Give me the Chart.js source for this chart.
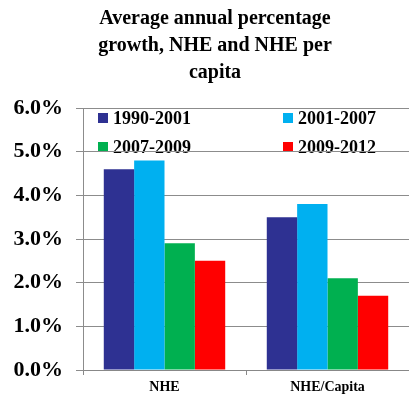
<!DOCTYPE html>
<html>
<head>
<meta charset="utf-8">
<script src="https://cdn.jsdelivr.net/npm/chart.js@4"></script>
<style>
  html, body { margin: 0; padding: 0; background: #fff; }
  #wrap { width: 409px; height: 398px; }
</style>
</head>
<body>
<div id="wrap"><canvas id="growth-chart" width="409" height="398"></canvas></div>
<script>
const categories = ['NHE', 'NHE/Capita'];
const periods = ['1990-2001', '2001-2007', '2007-2009', '2009-2012'];
const growth1990 = [4.6, 3.5];
const growth2001 = [4.8, 3.8];
const growth2007 = [2.9, 2.1];
const growth2009 = [2.5, 1.7];
const yTicks = [0, 1, 2, 3, 4, 5, 6];
const titleLines = ['Average annual percentage', 'growth, NHE and NHE per', 'capita'];

const colors = ['#2e3192', '#00b0f0', '#00b050', '#ff0000'];
const serif = '"Liberation Serif", "Times New Roman", serif';

// title + legend drawn by hand, the legend sits inside the plot like the excel original
const excelBits = {
  id: 'excelBits',
  beforeDraw(chart) {
    const ctx = chart.ctx;
    ctx.save();
    ctx.fillStyle = '#000';
    ctx.textAlign = 'center';
    ctx.textBaseline = 'middle';
    ctx.font = 'bold 20px ' + serif;
    titleLines.forEach((t, i) => ctx.fillText(t, 215, 19 + i * 27));

    ctx.font = 'bold 18px ' + serif;
    ctx.textAlign = 'left';
    chart.data.datasets.forEach((ds, i) => {
      const x = i % 2 === 0 ? 98 : 283;
      const y = i < 2 ? 118 : 147;
      ctx.fillStyle = ds.backgroundColor;
      ctx.fillRect(x, y - 5, 10, 10);
      ctx.fillStyle = '#000';
      ctx.fillText(ds.label, x + 15, y + 1);
    });
    ctx.restore();
  }
};

const ctx = document.getElementById('growth-chart').getContext('2d');
new Chart(ctx, {
  type: 'bar',
  data: {
    labels: categories,
    datasets: [
      { label: periods[0], data: growth1990, backgroundColor: colors[0] },
      { label: periods[1], data: growth2001, backgroundColor: colors[1] },
      { label: periods[2], data: growth2007, backgroundColor: colors[2] },
      { label: periods[3], data: growth2009, backgroundColor: colors[3] }
    ]
  },
  options: {
    responsive: false,
    animation: false,
    layout: { padding: { top: 108, left: 0, right: 0, bottom: 0 } },
    datasets: {
      bar: { categoryPercentage: 0.745, barPercentage: 1 }
    },
    plugins: {
      legend: { display: false },
      title: { display: false },
      tooltip: { enabled: false }
    },
    scales: {
      x: {
        grid: { drawOnChartArea: false, drawTicks: true, tickLength: 5, color: '#888' },
        border: { color: '#888' },
        ticks: { color: '#000', padding: 4, font: { family: serif, size: 14, weight: 'bold' } },
        afterFit(scale) { scale.height = 28; }
      },
      y: {
        min: 0,
        max: 6,
        afterBuildTicks(scale) { scale.ticks = yTicks.map(v => ({ value: v })); },
        grid: { color: '#8c8c8c', tickLength: 7 },
        border: { color: '#8c8c8c' },
        ticks: {
          color: '#000',
          padding: 13,
          font: { family: serif, size: 22, weight: 'bold' },
          callback: v => v.toFixed(1) + '%'
        },
        afterFit(scale) { scale.width = 83; }
      }
    }
  },
  plugins: [excelBits]
});
</script>
</body>
</html>
